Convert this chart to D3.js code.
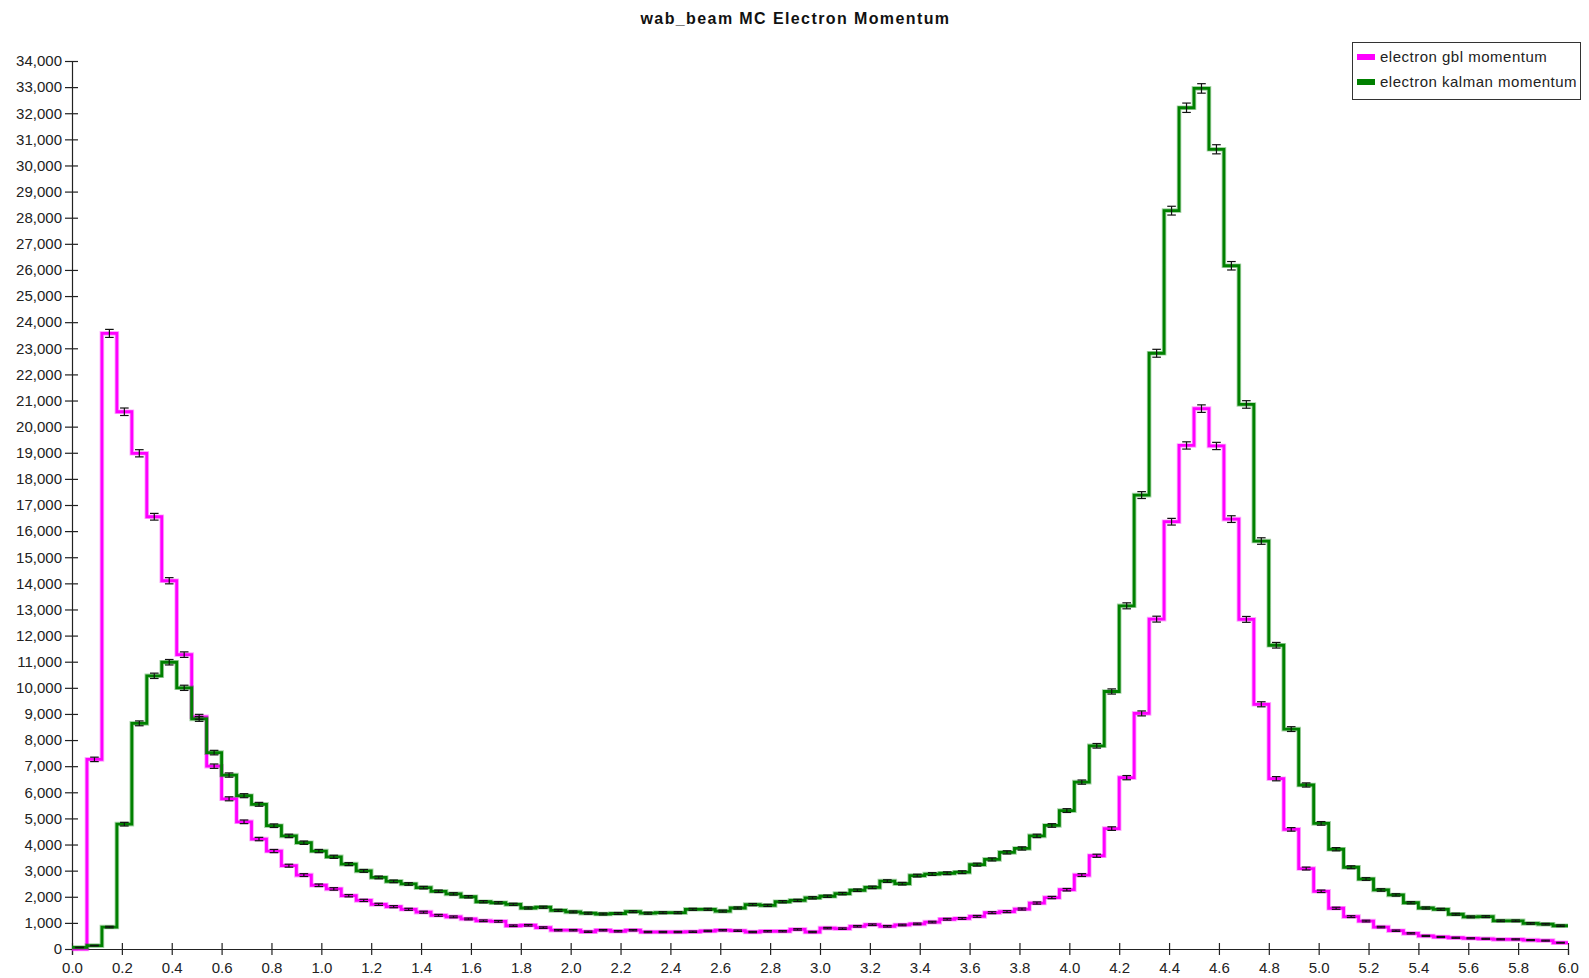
<!DOCTYPE html>
<html>
<head>
<meta charset="utf-8">
<script src="https://cdn.jsdelivr.net/npm/d3@7/dist/d3.min.js"></script>
<style>
  html, body { margin: 0; padding: 0; background: #fff; }
  svg { display: block; font-family: "Liberation Sans", Arial, sans-serif; }
</style>
</head>
<body>
<svg id="chart" width="1589" height="978"></svg>
<script>
// Histogram binning: 100 bins of width 0.06 GeV between 0 and 6
const binLow = 0;
const binHigh = 6;
const binCount = 100;

const seriesNames = ["electron gbl momentum", "electron kalman momentum"];
const seriesColors = ["#ff00ff", "#008000"];

// Bin contents (entries per bin)
const gblCounts = [
  0, 7260, 23570, 20570, 18980, 16550, 14100, 11270, 8890, 7000,
  5750, 4870, 4210, 3750, 3190, 2830, 2440, 2300, 2040, 1860,
  1710, 1620, 1520, 1410, 1290, 1230, 1150, 1080, 1060, 890,
  910, 820, 720, 720, 660, 720, 680, 720, 650, 650,
  650, 660, 690, 720, 700, 650, 680, 680, 750, 650,
  800, 780, 870, 930, 870, 920, 960, 1030, 1140, 1170,
  1250, 1390, 1430, 1530, 1760, 1970, 2270, 2830, 3570, 4610,
  6560, 9020, 12630, 16360, 19280, 20690, 19260, 16460, 12620, 9370,
  6520, 4580, 3080, 2210, 1560, 1240, 1070, 840, 700, 600,
  500, 460, 430, 410, 390, 370, 370, 340, 320, 240
];

const kalmanCounts = [
  60, 130, 840, 4780, 8640, 10460, 10980, 10000, 8810, 7520,
  6660, 5870, 5540, 4720, 4330, 4070, 3750, 3530, 3250, 2990,
  2740, 2590, 2490, 2350, 2210, 2110, 2000, 1810, 1770, 1710,
  1570, 1600, 1480, 1420, 1370, 1340, 1360, 1430, 1370, 1390,
  1390, 1520, 1520, 1450, 1570, 1700, 1670, 1810, 1860, 1960,
  2020, 2120, 2250, 2360, 2600, 2500, 2810, 2870, 2900, 2940,
  3230, 3430, 3700, 3850, 4330, 4730, 5300, 6390, 7780, 9860,
  13140, 17380, 22810, 28270, 32210, 32950, 30620, 26160, 20850, 15620,
  11630, 8420, 6280, 4810, 3820, 3130, 2680, 2260, 2070, 1770,
  1570, 1520, 1330, 1230, 1240, 1080, 1080, 980, 950, 890
];

const xTicks = d3.range(0, 31).map(i => i * 0.2);
const yTicks = d3.range(0, 35).map(i => i * 1000);

const svg = d3.select("#chart");
const plotLeft = 72, plotRight = 1568, plotTop = 61, plotBottom = 949;

const x = d3.scaleLinear().domain([binLow, binHigh]).range([plotLeft, plotRight]);
const y = d3.scaleLinear().domain([0, 34000]).range([plotBottom, plotTop]);
const binWidth = (binHigh - binLow) / binCount;

// Title
svg.append("text")
  .attr("x", 795.5).attr("y", 23.5)
  .attr("text-anchor", "middle")
  .attr("font-weight", "bold")
  .attr("font-size", 16)
  .attr("letter-spacing", 1.4)
  .attr("fill", "#111")
  .text("wab_beam MC Electron Momentum");

// Axes
const yAxis = d3.axisLeft(y).tickValues(yTicks).tickFormat(d3.format(",")).tickSize(7).tickPadding(3);
const gy = svg.append("g").attr("transform", `translate(${plotLeft},0)`).call(yAxis);
gy.selectAll(".tick line").attr("x2", 6).attr("x1", -7);

const xAxis = d3.axisBottom(x).tickValues(xTicks).tickFormat(d3.format(".1f")).tickSize(6).tickPadding(7);
const gx = svg.append("g").attr("transform", `translate(0,${plotBottom})`).call(xAxis);
gx.selectAll(".tick line").attr("y1", -6).attr("y2", 6);

[gx, gy].forEach(g => {
  g.select(".domain").attr("stroke", "#222").attr("stroke-width", 1.2);
  g.selectAll(".tick line").attr("stroke", "#222").attr("stroke-width", 1.2);
  g.selectAll(".tick text").attr("font-size", 15).attr("fill", "#222")
    .attr("font-family", "\"Liberation Sans\", Arial, sans-serif");
});

// Step outline of one histogram
function stepPath(counts) {
  const p = d3.path();
  counts.forEach((v, i) => {
    const x0 = x(binLow + i * binWidth), x1 = x(binLow + (i + 1) * binWidth);
    if (i === 0) p.moveTo(x0, y(v)); else p.lineTo(x0, y(v));
    p.lineTo(x1, y(v));
  });
  return p.toString();
}

const allSeries = [gblCounts, kalmanCounts];
allSeries.forEach((counts, s) => {
  // soft halo under the outline
  svg.append("path").attr("d", stepPath(counts))
    .attr("fill", "none").attr("stroke", seriesColors[s])
    .attr("stroke-opacity", 0.35).attr("stroke-width", 4.6)
    .attr("stroke-linejoin", "miter");
  svg.append("path").attr("d", stepPath(counts))
    .attr("fill", "none").attr("stroke", seriesColors[s])
    .attr("stroke-width", 2.8).attr("stroke-linejoin", "miter");
});

// Statistical error bars (sqrt of entries) at bin centres
allSeries.forEach(counts => {
  const g = svg.append("g").attr("stroke", "#111").attr("stroke-width", 1.2).attr("fill", "none");
  counts.forEach((v, i) => {
    if (v <= 0) return;
    const cx = x(binLow + (i + 0.5) * binWidth);
    const e = Math.sqrt(v);
    const yHi = y(v + e), yLo = y(v - e);
    g.append("line").attr("x1", cx).attr("x2", cx).attr("y1", yHi).attr("y2", yLo);
    g.append("line").attr("x1", cx - 4.3).attr("x2", cx + 4.3).attr("y1", yHi).attr("y2", yHi);
    g.append("line").attr("x1", cx - 4.3).attr("x2", cx + 4.3).attr("y1", yLo).attr("y2", yLo);
  });
});

// Legend
const legend = svg.append("g").attr("transform", "translate(1352,42)");
legend.append("rect").attr("x", 0.5).attr("y", 0.5).attr("width", 228).attr("height", 57)
  .attr("fill", "#fff").attr("stroke", "#333").attr("stroke-width", 1);
seriesNames.forEach((name, i) => {
  const ly = 15 + i * 25;
  legend.append("rect").attr("x", 5).attr("y", ly - 3).attr("width", 18).attr("height", 6)
    .attr("fill", seriesColors[i]);
  legend.append("text").attr("x", 28).attr("y", ly + 5)
    .attr("font-size", 15).attr("letter-spacing", 0.5).attr("fill", "#222").text(name);
});
</script>
</body>
</html>
